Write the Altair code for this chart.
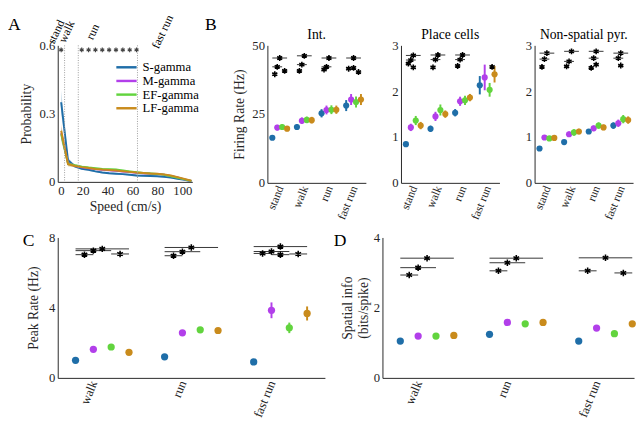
import json
import pandas as pd
import altair as alt

FONT = "Liberation Serif"
INK = "#262626"

series = ["S-gamma", "M-gamma", "EF-gamma", "LF-gamma"]
series_short = ["S", "M", "EF", "LF"]
colors = ["#1f6ea8", "#b23fea", "#62d43e", "#c98b1c"]

# ---------------- Panel A data ----------------
speed = [2.75, 8.25, 13.75, 19.25, 24.75, 30.25, 35.75, 41.25, 46.75, 52.25,
         57.75, 63.25, 68.75, 74.25, 79.75, 85.25, 90.75, 96.25, 101.75, 107.25]
prob_S = [0.35, 0.095, 0.068, 0.058, 0.053, 0.046, 0.041, 0.038, 0.036, 0.034,
          0.031, 0.028, 0.027, 0.026, 0.025, 0.022, 0.019, 0.014, 0.009, 0.003]
prob_M = [0.215, 0.082, 0.071, 0.064, 0.060, 0.056, 0.053, 0.051, 0.049, 0.046,
          0.043, 0.040, 0.038, 0.036, 0.035, 0.031, 0.026, 0.019, 0.011, 0.004]
prob_EF = [0.21, 0.080, 0.073, 0.067, 0.063, 0.060, 0.057, 0.056, 0.054, 0.050,
           0.046, 0.042, 0.039, 0.037, 0.035, 0.031, 0.025, 0.018, 0.011, 0.004]
prob_LF = [0.225, 0.078, 0.070, 0.065, 0.061, 0.057, 0.054, 0.052, 0.050, 0.047,
           0.044, 0.041, 0.039, 0.037, 0.036, 0.033, 0.028, 0.021, 0.013, 0.005]
sem_S = [0.05, 0.012, 0.006, 0.005, 0.005, 0.004, 0.004, 0.004, 0.004, 0.004,
         0.004, 0.004, 0.004, 0.004, 0.004, 0.004, 0.003, 0.003, 0.002, 0.001]
sem_other = [0.03, 0.01, 0.006, 0.005, 0.005, 0.004, 0.004, 0.004, 0.004, 0.004,
             0.004, 0.004, 0.004, 0.004, 0.004, 0.004, 0.003, 0.003, 0.002, 0.001]
phase_names = ["stand", "walk", "run", "fast run"]
phase_label_speed = [-1.5, 7, 28, 84]
phase_edges = [5.5, 16.5, 64]
sig_speeds = [2.75, 19.25, 24.75, 30.25, 35.75, 41.25, 46.75, 52.25, 57.75, 63.25]

# ---------------- Panel B data ----------------
b_cats = ["stand", "walk", "run", "fast run"]
int_mean = [[16.4, 20.3, 25.3, 28.1], [20.1, 22.6, 26.5, 30.3],
            [20.3, 22.9, 26.6, 29.4], [19.7, 22.8, 26.6, 30.3]]
int_err = [[0.6, 1.0, 1.5, 2.0], [1.0, 1.2, 1.6, 2.0],
           [1.0, 1.2, 1.6, 2.0], [0.9, 1.2, 1.5, 2.0]]
int_sig = [("stand", "S", "LF", 45.4), ("stand", "S", "EF", 42.2), ("stand", "S", "M", 39.5), ("stand", "EF", "LF", 40.7),
           ("walk", "S", "LF", 46.2), ("walk", "S", "EF", 43.0), ("walk", "S", "M", 40.7),
           ("run", "S", "LF", 45.4), ("run", "S", "EF", 42.2), ("run", "S", "M", 41.2),
           ("fast run", "S", "LF", 45.4), ("fast run", "S", "M", 41.5), ("fast run", "M", "EF", 41.8), ("fast run", "EF", "LF", 40.3)]

pc_mean = [[0.845, 1.18, 1.53, 2.13], [1.21, 1.45, 1.78, 2.30],
           [1.36, 1.59, 1.80, 2.03], [1.25, 1.50, 1.86, 2.37]]
pc_err = [[0.04, 0.07, 0.08, 0.20], [0.08, 0.10, 0.10, 0.28],
          [0.10, 0.12, 0.10, 0.15], [0.08, 0.08, 0.08, 0.18]]
pc_sig = [("stand", "S", "LF", 2.78), ("stand", "S", "EF", 2.68), ("stand", "S", "M", 2.60), ("stand", "M", "EF", 2.52),
          ("walk", "S", "LF", 2.79), ("walk", "S", "EF", 2.69), ("walk", "S", "M", 2.52),
          ("run", "S", "LF", 2.79), ("run", "S", "EF", 2.69), ("run", "S", "M", 2.55),
          ("fast run", "EF", "LF", 2.53)]

ns_mean = [[0.75, 0.89, 1.12, 1.25], [0.99, 1.06, 1.19, 1.30],
           [0.97, 1.10, 1.25, 1.39], [0.98, 1.12, 1.21, 1.37]]
ns_err = [[0.03, 0.04, 0.05, 0.07], [0.04, 0.06, 0.06, 0.08],
          [0.05, 0.07, 0.07, 0.09], [0.04, 0.06, 0.06, 0.08]]
ns_sig = [("stand", "S", "LF", 2.83), ("stand", "S", "EF", 2.70), ("stand", "S", "M", 2.53),
          ("walk", "S", "LF", 2.87), ("walk", "S", "EF", 2.65), ("walk", "S", "M", 2.54),
          ("run", "S", "LF", 2.87), ("run", "S", "EF", 2.72), ("run", "M", "EF", 2.58), ("run", "S", "M", 2.51),
          ("fast run", "S", "LF", 2.83), ("fast run", "S", "EF", 2.72), ("fast run", "M", "EF", 2.56)]

# ---------------- Panel C / D data ----------------
cd_cats = ["walk", "run", "fast run"]
peak_mean = [[1.00, 1.20, 0.91], [1.63, 2.57, 3.85], [1.76, 2.74, 2.85], [1.46, 2.70, 3.67]]
peak_err = [[0.08, 0.10, 0.08], [0.10, 0.12, 0.45], [0.10, 0.12, 0.30], [0.08, 0.10, 0.40]]
peak_sig = [("walk", "S", "LF", 7.35), ("walk", "S", "EF", 7.25), ("walk", "S", "M", 7.02), ("walk", "EF", "LF", 7.06),
            ("run", "S", "LF", 7.43), ("run", "S", "EF", 7.19), ("run", "S", "M", 6.96),
            ("fast run", "S", "LF", 7.48), ("fast run", "S", "EF", 7.20), ("fast run", "S", "M", 7.09),
            ("fast run", "M", "EF", 7.02), ("fast run", "EF", "LF", 7.06)]

info_mean = [[1.05, 1.24, 1.05], [1.19, 1.58, 1.42], [1.19, 1.54, 1.26], [1.21, 1.58, 1.54]]
info_err = [[0.03, 0.03, 0.03], [0.03, 0.03, 0.04], [0.03, 0.03, 0.03], [0.03, 0.03, 0.04]]
info_sig = [("walk", "S", "LF", 3.41), ("walk", "S", "EF", 3.14), ("walk", "S", "M", 2.93),
            ("run", "S", "LF", 3.41), ("run", "S", "EF", 3.28), ("run", "S", "M", 3.05),
            ("fast run", "S", "LF", 3.42), ("fast run", "S", "M", 3.05), ("fast run", "EF", "LF", 2.99)]

AST = "M0,-1L0,1M-0.87,-0.5L0.87,0.5M-0.87,0.5L0.87,-0.5"
color_scale = alt.Scale(domain=series, range=colors)


def text_layer(txt, lx, ly, size=18, align="left", baseline="top"):
    return alt.Chart(pd.DataFrame({"t": [txt]})).mark_text(
        align=align, baseline=baseline, font=FONT, fontSize=size, color="black"
    ).encode(x=alt.value(lx), y=alt.value(ly), text="t:N")


def group_panel(cats, means, errs, sig, ydom, yvals, w, h, dodge, center, xdom,
                title=None, ytitle=None, letter=None, lpos=(0, 0), dot_size=40,
                ast_size=36, ytitle_pad=6, label_size=12):
    rows = []
    for si, s in enumerate(series):
        for ci, c in enumerate(cats):
            rows.append(dict(series=s, si=si, ci=ci + 1, mean=means[si][ci], err=errs[si][ci]))
    df = pd.DataFrame(rows)
    srows = [dict(ci=cats.index(c) + 1, ai=series_short.index(a), bi=series_short.index(b), y=y)
             for (c, a, b, y) in sig]
    sdf = pd.DataFrame(srows)
    label_expr = "%s[datum.value - 1]" % json.dumps(cats)
    xscale = alt.Scale(domain=xdom, nice=False, zero=False)
    xaxis = alt.Axis(values=list(range(1, len(cats) + 1)), labelExpr=label_expr, labelAngle=292,
                     title=None, ticks=False, labelPadding=3, labelFontSize=label_size, grid=False)
    yscale = alt.Scale(domain=ydom, nice=False, zero=False)
    yaxis = alt.Axis(values=yvals, title=ytitle, ticks=False, labelPadding=3,
                     titlePadding=ytitle_pad, grid=False)
    col = alt.Color("series:N", scale=color_scale, legend=None)
    base = alt.Chart(df).transform_calculate(
        px=f"datum.ci + (datum.si - {center}) * {dodge}",
        lo="datum.mean - datum.err", hi="datum.mean + datum.err")
    bars = base.mark_rule(strokeWidth=2).encode(
        x=alt.X("px:Q", scale=xscale, axis=xaxis),
        y=alt.Y("lo:Q", scale=yscale, axis=yaxis), y2="hi:Q", color=col)
    dots = base.mark_circle(size=dot_size, opacity=1).encode(
        x=alt.X("px:Q", scale=xscale, axis=xaxis),
        y=alt.Y("mean:Q", scale=yscale, axis=yaxis), color=col)
    sbase = alt.Chart(sdf).transform_calculate(
        xa=f"datum.ci + (datum.ai - {center}) * {dodge}",
        xb=f"datum.ci + (datum.bi - {center}) * {dodge}").transform_calculate(
        xm="(datum.xa + datum.xb) / 2")
    srules = sbase.mark_rule(strokeWidth=1, color="#333").encode(
        x=alt.X("xa:Q", scale=xscale, axis=xaxis), x2="xb:Q",
        y=alt.Y("y:Q", scale=yscale, axis=yaxis))
    sast = sbase.mark_point(shape=AST, filled=False, size=ast_size, strokeWidth=1.6,
                            color="black", opacity=1).encode(
        x=alt.X("xm:Q", scale=xscale, axis=xaxis),
        y=alt.Y("y:Q", scale=yscale, axis=yaxis))
    layers = [bars, dots, srules, sast]
    if letter:
        layers.append(text_layer(letter, lpos[0], lpos[1]))
    if title:
        layers.append(text_layer(title, w / 2, -4, size=14, align="center", baseline="bottom"))
    return alt.layer(*layers).properties(width=w, height=h)


# ---------------- Panel A chart ----------------
rows = []
for s, vals, sems in zip(series, [prob_S, prob_M, prob_EF, prob_LF],
                         [sem_S, sem_other, sem_other, sem_other]):
    for sp, v, e in zip(speed, vals, sems):
        rows.append(dict(series=s, speed=sp, prob=v, lo=v - e, hi=v + e))
adf = pd.DataFrame(rows)
ax_x = alt.Scale(domain=[0, 108], nice=False, zero=False)
ax_y = alt.Scale(domain=[0, 0.6], nice=False)
xax = alt.Axis(values=[0, 20, 40, 60, 80, 100], title="Speed (cm/s)", ticks=False,
               labelPadding=3, titlePadding=2, grid=False, labelFontSize=13)
yax = alt.Axis(values=[0, 0.3, 0.6], format="~g", title="Probability", ticks=False,
               labelPadding=3, titlePadding=6, grid=False)
band = alt.Chart(adf).mark_area(opacity=0.25).encode(
    x=alt.X("speed:Q", scale=ax_x, axis=xax), y=alt.Y("lo:Q", scale=ax_y, axis=yax), y2="hi:Q",
    fill=alt.Fill("series:N", scale=color_scale, legend=None))
lines = alt.Chart(adf).mark_line(strokeWidth=2).encode(
    x=alt.X("speed:Q", scale=ax_x, axis=xax), y=alt.Y("prob:Q", scale=ax_y, axis=yax),
    color=alt.Color("series:N", scale=color_scale,
                    legend=alt.Legend(orient="none", legendX=64, legendY=16, title=None,
                                      symbolType="M-2.6,0L2.6,0", symbolSize=64,
                                      symbolStrokeWidth=2.5, labelFont=FONT, labelFontSize=13,
                                      labelColor="black", labelOffset=10, rowPadding=-1,
                                      padding=0)))
edges = alt.Chart(pd.DataFrame({"speed": phase_edges})).mark_rule(
    color="#9a9a9a", strokeDash=[1, 1.5], strokeWidth=1).encode(
    x=alt.X("speed:Q", scale=ax_x, axis=xax), y=alt.value(0), y2=alt.value(140))
aster = alt.Chart(pd.DataFrame({"speed": sig_speeds, "p": [0.58] * len(sig_speeds)})).mark_point(
    shape=AST, filled=False, size=22, strokeWidth=1.2, color="#444", opacity=1).encode(
    x=alt.X("speed:Q", scale=ax_x, axis=xax), y=alt.Y("p:Q", scale=ax_y, axis=yax))
tops = alt.Chart(pd.DataFrame({"label": phase_names, "speed": phase_label_speed})).mark_text(
    angle=295, align="center", baseline="middle", font=FONT, fontSize=12, color="black").encode(
    x=alt.X("speed:Q", scale=ax_x, axis=xax), y=alt.value(-14), text="label:N")
panelA = alt.layer(band, lines, edges, aster, tops, text_layer("A", -51, -30)).properties(
    width=138, height=140)

panelB1 = group_panel(b_cats, int_mean, int_err, int_sig, [0, 50], [0, 25, 50], 101, 141,
                      0.2, 1.5, [0.5, 4.5], title="Int.", ytitle="Firing Rate (Hz)",
                      letter="B", lpos=(-64, -30))
panelB2 = group_panel(b_cats, pc_mean, pc_err, pc_sig, [0, 3], [0, 1, 2, 3], 101, 141,
                      0.2, 1.5, [0.5, 4.5], title="Place cells")
panelB3 = group_panel(b_cats, ns_mean, ns_err, ns_sig, [0, 3], [0, 1, 2, 3], 101, 141,
                      0.2, 1.5, [0.5, 4.5], title="Non-spatial pyr.")
panelC = group_panel(cd_cats, peak_mean, peak_err, peak_sig, [0, 8], [0, 4, 8], 274, 144,
                     0.2, 1, [0.6, 3.6], ytitle="Peak Rate (Hz)", letter="C", lpos=(-36, -5),
                     dot_size=55, ast_size=44, ytitle_pad=8, label_size=13)
panelD = group_panel(cd_cats, info_mean, info_err, info_sig, [0, 4], [0, 2, 4], 258, 144,
                     0.2, 1, [0.6, 3.42], ytitle=["Spatial info", "(bits/spike)"], letter="D",
                     lpos=(-50, -5), dot_size=55, ast_size=44, ytitle_pad=3, label_size=13)

bgroup = alt.hconcat(panelB1, panelB2, panelB3, spacing=26).resolve_scale(color="independent")
top = alt.hconcat(panelA, bgroup, spacing=6).resolve_scale(color="independent")
bottom = alt.hconcat(panelC, panelD, spacing=9).resolve_scale(color="independent")
chart = alt.vconcat(top, bottom, spacing=11).resolve_scale(color="independent").properties(
    padding={"left": 0, "top": 0, "right": 0, "bottom": 0}
).configure(padding=0).configure_axis(
    labelFont=FONT, titleFont=FONT, labelColor=INK, titleColor=INK, domainColor=INK,
    labelFontSize=13, titleFontSize=14, titleFontWeight="normal", domainWidth=1
).configure_view(stroke=None)

chart.save("out.html", embed_options={"renderer": "svg", "actions": False})
